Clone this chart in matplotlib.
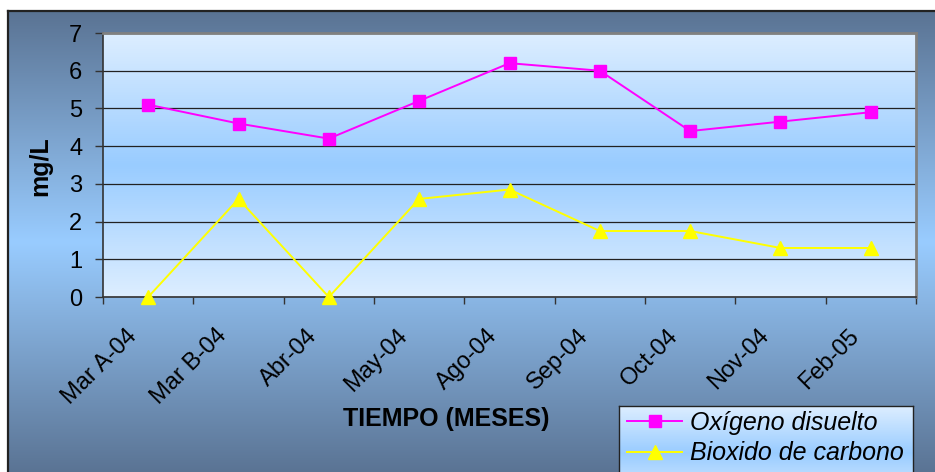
import numpy as np
import matplotlib
matplotlib.use("Agg")
import matplotlib.pyplot as plt
import matplotlib.transforms as mtransforms
from matplotlib.colors import LinearSegmentedColormap
from matplotlib.lines import Line2D

plt.rcParams['font.family'] = ['Liberation Sans', 'DejaVu Sans']

# Datos de campo
meses = ['Mar A-04', 'Mar B-04', 'Abr-04', 'May-04', 'Ago-04',
         'Sep-04', 'Oct-04', 'Nov-04', 'Feb-05']
oxigeno = [5.1, 4.6, 4.2, 5.2, 6.2, 6.0, 4.4, 4.65, 4.9]
co2 = [0, 2.6, 0, 2.6, 2.85, 1.75, 1.75, 1.3, 1.3]
ticks_y = [0, 1, 2, 3, 4, 5, 6, 7]

W, H = 935, 472


def rect(x0, y0, x1, y1):
    # pixel box (top-left origin) -> figure fraction
    return [x0 / W, 1 - y1 / H, (x1 - x0) / W, (y1 - y0) / H]


def gradient(ax, c_edge, c_mid):
    # vertical gradient: edge colour at top and bottom, mid colour in the centre
    cmap = LinearSegmentedColormap.from_list('g', [c_edge, c_mid, c_edge])
    g = np.linspace(0, 1, 256).reshape(-1, 1)
    ax.imshow(g, cmap=cmap, aspect='auto', extent=[0, 1, 0, 1], interpolation='bicubic')
    ax.set_xlim(0, 1)
    ax.set_ylim(0, 1)
    ax.set_xticks([])
    ax.set_yticks([])


fig = plt.figure(figsize=(W / 100, H / 100), dpi=100)
fig.patch.set_facecolor('white')

# fondo del grafico
bg = fig.add_axes(rect(8, 11, W + 2, H + 2), zorder=0)
gradient(bg, '#5A7393', '#99CCFF')
for s in ['right', 'bottom']:
    bg.spines[s].set_visible(False)
for s in ['left', 'top']:
    bg.spines[s].set_color('#222222')
    bg.spines[s].set_linewidth(1.6)

# area de trazado
pa = fig.add_axes(rect(103, 33, 916, 297), zorder=1)
gradient(pa, '#DDEEFF', '#99CCFF')
for s in pa.spines.values():
    s.set_visible(False)

ax = fig.add_axes(rect(103, 33, 916, 297), zorder=2)
ax.patch.set_alpha(0)
x = np.arange(len(meses))
ax.plot(x, oxigeno, color='#FF00FF', lw=1.4, marker='s', ms=8.5,
        mec='#FF00FF', mfc='#FF00FF', clip_on=False, zorder=4)
ax.plot(x, co2, color='#FFFF00', lw=1.4, marker='^', ms=10,
        mec='#FFFF00', mfc='#FFFF00', clip_on=False, zorder=4)

ax.set_xlim(-0.5, len(meses) - 0.5)
ax.set_ylim(0, 7)
ax.set_yticks(ticks_y)
ax.yaxis.grid(True, color='#222222', lw=0.9)
ax.set_axisbelow(True)
ax.tick_params(axis='y', length=6, width=1, color='#333333', pad=9, labelsize=17)

ax.set_xticks(x)
ax.set_xticklabels(meses, rotation=45, ha='right', va='center',
                   rotation_mode='anchor', fontsize=17)
ax.tick_params(axis='x', which='major', length=0, pad=22)
ax.set_xticks(np.arange(-0.5, len(meses), 1), minor=True)
ax.tick_params(axis='x', which='minor', length=5, width=1, color='#333333')
# etiquetas un poco mas a la izquierda y abajo
shift = mtransforms.ScaledTranslation(-0.15, -0.05, fig.dpi_scale_trans)
for lbl in ax.get_xticklabels():
    lbl.set_transform(lbl.get_transform() + shift)

for s in ['left', 'bottom']:
    ax.spines[s].set_color('#333333')
    ax.spines[s].set_linewidth(1.2)
for s in ['top', 'right']:
    ax.spines[s].set_color('#808080')
    ax.spines[s].set_linewidth(2)

fig.text(40 / W, 1 - 166 / H, 'mg/L', rotation=90, ha='center', va='center',
         fontsize=18, fontweight='bold')
fig.text(446 / W, 1 - 419 / H, 'TIEMPO (MESES)', ha='center', va='center',
         fontsize=18, fontweight='bold')

# leyenda con su propio fondo degradado
lg = fig.add_axes(rect(619, 406, 913, 500), zorder=3)
gradient(lg, '#DDEEFF', '#99CCFF')
for s in lg.spines.values():
    s.set_color('#222222')
    s.set_linewidth(1)

handles = [
    Line2D([], [], color='#FF00FF', lw=1.4, marker='s', ms=8.5, mec='#FF00FF'),
    Line2D([], [], color='#FFFF00', lw=1.4, marker='^', ms=10, mec='#FFFF00'),
]
leg = fig.legend(handles, ['Oxígeno disuelto', 'Bioxido de carbono'],
                 loc='upper left', bbox_to_anchor=(622 / W, 1 - 406 / H),
                 frameon=False, prop={'style': 'italic', 'size': 18},
                 handlelength=2.2, handletextpad=0.3, labelspacing=0.25,
                 borderpad=0.2, borderaxespad=0)
leg.set_zorder(10)

fig.savefig('out.png', dpi=100)
